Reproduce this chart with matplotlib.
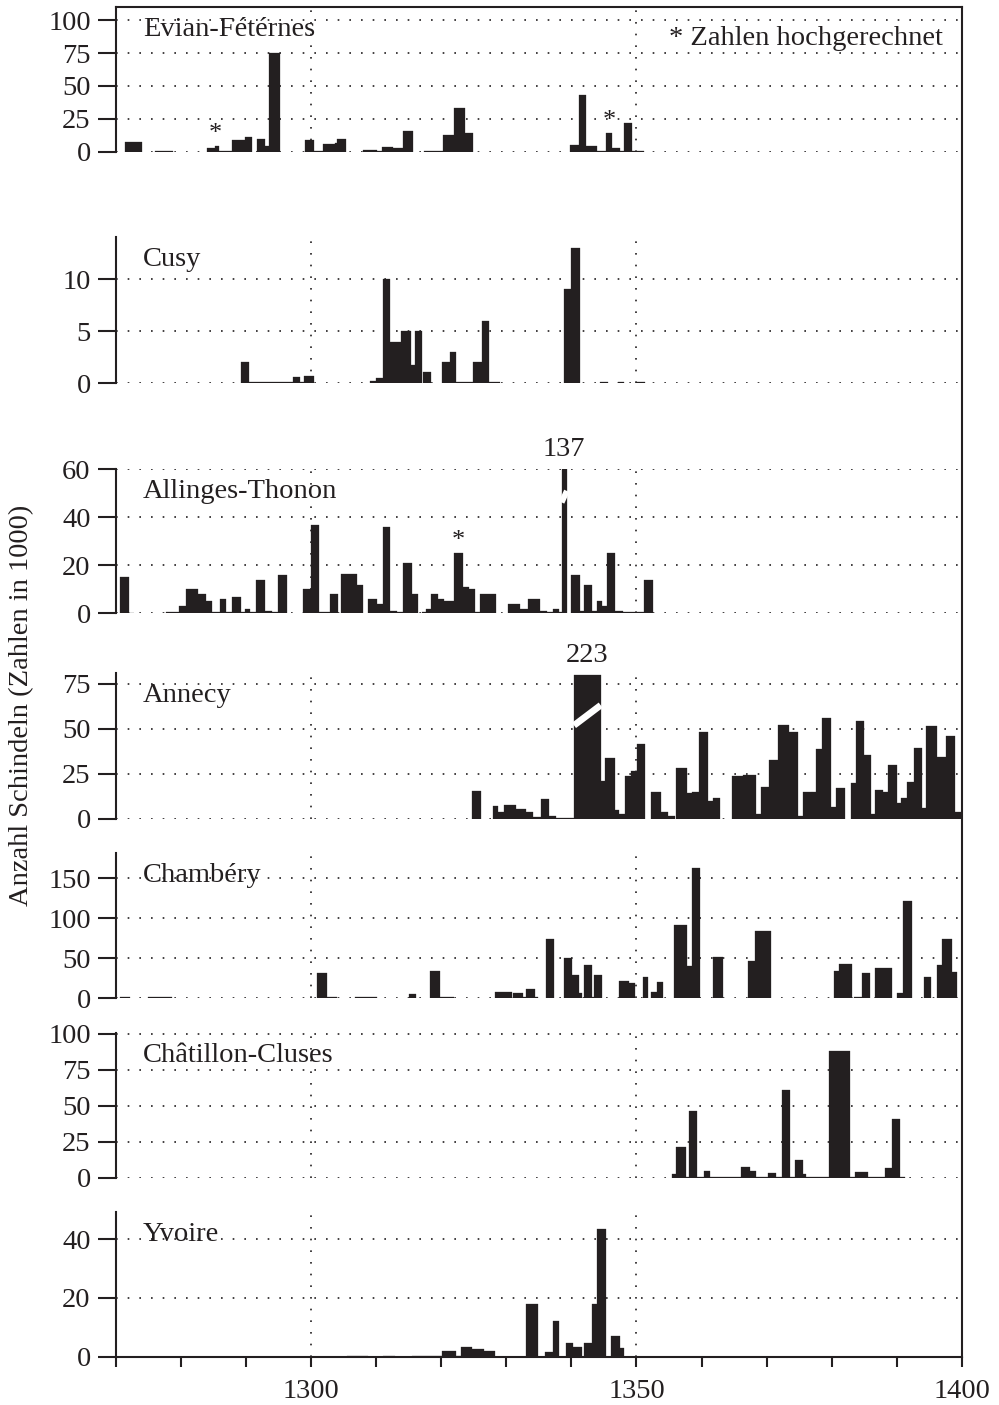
import matplotlib
matplotlib.use('Agg')
import matplotlib.pyplot as plt
from matplotlib.lines import Line2D

plt.rcParams['font.family'] = ['Liberation Serif', 'DejaVu Serif']
plt.rcParams['font.size'] = 20.5

# ---------------- data (years: start / end of each period, value in 1000 shingles) -------------
evian_start = [1271.5, 1276.0, 1284.0, 1285.3, 1285.9, 1287.9, 1289.9, 1291.7, 1293.0, 1293.6,
               1299.1, 1300.4, 1301.9, 1303.7, 1304.0, 1308.0, 1310.1, 1310.9, 1312.6, 1314.2,
               1317.3, 1320.3, 1321.9, 1323.7, 1339.8, 1341.1, 1342.2, 1344.0, 1345.3, 1346.3,
               1347.4, 1348.1, 1349.3]
evian_end = [1274.0, 1278.8, 1285.3, 1285.9, 1287.9, 1289.9, 1290.9, 1293.0, 1293.6, 1295.2,
             1300.4, 1301.9, 1303.7, 1304.0, 1305.3, 1310.1, 1310.9, 1312.6, 1314.2, 1315.6,
             1320.3, 1321.9, 1323.7, 1324.9, 1341.1, 1342.2, 1344.0, 1345.3, 1346.3, 1347.4,
             1348.1, 1349.3, 1351.2]
evian_val = [7, 0.7, 2.5, 4, 0.7, 9, 11, 10, 4, 75,
             9, 0.8, 5.5, 6.3, 10, 1, 0.6, 3.5, 2.5, 15.5,
             0.7, 13, 33, 14, 5, 43, 4.5, 0.7, 14, 2.5,
             0.7, 21.5, 0.7]
evian_stars = [1285.3, 1345.8]

cusy_start = [1289.2, 1290.4, 1297.2, 1298.3, 1298.9, 1309.0, 1310.0, 1311.1, 1312.2, 1313.9,
              1315.4, 1316.0, 1317.2, 1320.1, 1321.3, 1322.3, 1324.9, 1326.2, 1327.4, 1338.8,
              1340.0, 1344.4, 1347.2, 1349.9]
cusy_end = [1290.4, 1297.2, 1298.3, 1298.9, 1300.4, 1310.0, 1311.1, 1312.2, 1313.9, 1315.4,
            1316.0, 1317.0, 1318.5, 1321.3, 1322.3, 1324.9, 1326.2, 1327.4, 1329.0, 1340.0,
            1341.3, 1345.6, 1348.1, 1351.3]
cusy_val = [2, 0.12, 0.6, 0.12, 0.7, 0.2, 0.5, 10, 4, 5,
            1.8, 5, 1.1, 2, 3, 0.12, 2, 6, 0.12, 9,
            13, 0.12, 0.12, 0.12]

allinges_start = [1270.7, 1272.1, 1277.8, 1279.7, 1280.8, 1282.6, 1283.8, 1284.8, 1286.0, 1286.9,
                  1287.9, 1289.2, 1289.9, 1290.6, 1291.6, 1293.0, 1294.0, 1295.0, 1298.7, 1300.0,
                  1301.3, 1302.9, 1304.6, 1307.0, 1308.8, 1310.1, 1311.0, 1312.2, 1313.2, 1314.2,
                  1315.5, 1317.1, 1317.7, 1318.4, 1319.5, 1320.5, 1322.0, 1323.3, 1324.2, 1325.2,
                  1326.0, 1330.3, 1332.1, 1333.4, 1335.2, 1336.2, 1337.1, 1338.1, 1338.5, 1340.0,
                  1341.3, 1342.0, 1343.2, 1344.0, 1344.7, 1345.4, 1346.7, 1348.0, 1351.1]
allinges_end = [1272.1, 1272.8, 1279.7, 1280.8, 1282.6, 1283.8, 1284.8, 1286.0, 1286.9, 1287.9,
                1289.2, 1289.9, 1290.6, 1291.6, 1293.0, 1294.0, 1295.0, 1296.3, 1300.0, 1301.3,
                1302.9, 1304.2, 1307.0, 1308.0, 1310.1, 1311.0, 1312.2, 1313.2, 1314.2, 1315.5,
                1316.4, 1317.7, 1318.4, 1319.5, 1320.5, 1322.0, 1323.3, 1324.2, 1325.2, 1326.0,
                1328.4, 1332.1, 1333.4, 1335.2, 1336.2, 1337.1, 1338.1, 1338.5, 1339.3, 1341.3,
                1342.0, 1343.2, 1344.0, 1344.7, 1345.4, 1346.7, 1348.0, 1351.1, 1352.6]
allinges_val = [15, 0.3, 0.4, 3, 10, 8, 5, 0.4, 6, 0.4,
                7, 0.5, 2, 0.5, 14, 1, 0.4, 16, 10, 37,
                0.4, 8, 16.5, 12, 6, 4, 36, 1, 0.4, 21,
                8, 0.4, 2, 8, 6, 5, 25, 11, 10, 0.5,
                8, 4, 2, 6, 1, 0.4, 2, 0.4, 137, 16,
                1, 12, 1, 5, 3, 25, 1, 0.4, 14]
allinges_stars = [1322.6]

annecy_start = [1324.8, 1327.9, 1328.7, 1329.7, 1331.5, 1333.1, 1334.1, 1335.3, 1336.6, 1337.6,
                1340.4, 1344.5, 1345.2, 1346.7, 1347.3, 1348.2, 1349.2, 1350.1, 1352.3, 1353.8,
                1354.8, 1356.1, 1357.8, 1358.6, 1359.6, 1361.0, 1361.8, 1364.7, 1366.3, 1368.3,
                1369.2, 1370.4, 1371.8, 1373.5, 1374.8, 1375.5, 1376.9, 1377.6, 1378.5, 1379.9,
                1380.7, 1382.9, 1383.7, 1385.0, 1386.0, 1386.6, 1387.9, 1388.6, 1390.0, 1390.6,
                1391.6, 1392.6, 1393.9, 1394.5, 1396.2, 1397.6, 1398.9]
annecy_end = [1326.1, 1328.7, 1329.7, 1331.5, 1333.1, 1334.1, 1335.3, 1336.6, 1337.6, 1340.4,
              1344.5, 1345.2, 1346.7, 1347.3, 1348.2, 1349.2, 1350.1, 1351.3, 1353.8, 1354.8,
              1355.9, 1357.8, 1358.6, 1359.6, 1361.0, 1361.8, 1362.9, 1366.3, 1368.3, 1369.2,
              1370.4, 1371.8, 1373.5, 1374.8, 1375.5, 1376.9, 1377.6, 1378.5, 1379.9, 1380.7,
              1382.0, 1383.7, 1385.0, 1386.0, 1386.6, 1387.9, 1388.6, 1390.0, 1390.6, 1391.6,
              1392.6, 1393.9, 1394.5, 1396.2, 1397.6, 1398.9, 1400.0]
annecy_val = [15.5, 7, 4, 8, 5.4, 4, 1, 11, 1.5, 0.6,
              223, 21, 34, 5, 2.8, 24, 26.5, 41.5, 14.8, 3.7,
              1.5, 28.5, 14.4, 14.8, 48.5, 9.8, 11.9, 24, 24.4, 2.8,
              18, 33, 52.4, 48.3, 1.9, 14.8, 14.8, 38.9, 55.9, 6.5,
              17.2, 20, 54.4, 35.6, 2.8, 15.9, 14.8, 30, 8.9, 11.9,
              20.7, 39.3, 5.9, 51.9, 34.6, 45.9, 3.7]

chambery_start = [1270.7, 1275.0, 1300.9, 1302.4, 1306.8, 1315.0, 1318.3, 1319.8, 1328.3, 1331.1,
                  1332.6, 1333.1, 1334.4, 1336.1, 1338.8, 1340.1, 1341.2, 1341.9, 1343.1, 1343.5,
                  1347.3, 1348.9, 1351.0, 1352.3, 1353.1, 1355.7, 1357.7, 1358.5, 1361.8, 1367.2,
                  1368.2, 1380.4, 1381.1, 1383.4, 1384.6, 1386.6, 1390.0, 1391.0, 1394.1, 1396.1,
                  1397.0, 1398.4]
chambery_end = [1272.2, 1278.6, 1302.4, 1304.0, 1310.1, 1316.2, 1319.8, 1321.9, 1330.8, 1332.6,
                1333.1, 1334.4, 1334.9, 1337.3, 1340.1, 1341.2, 1341.7, 1343.1, 1343.5, 1344.7,
                1348.9, 1349.8, 1351.7, 1353.1, 1354.1, 1357.7, 1358.5, 1359.8, 1363.3, 1368.2,
                1370.6, 1381.1, 1383.1, 1384.6, 1385.9, 1389.3, 1391.0, 1392.3, 1395.3, 1397.0,
                1398.4, 1399.2]
chambery_val = [1.2, 1.2, 32, 1, 1, 5, 34, 1.2, 7.5, 6,
                1.5, 12, 1, 74, 50, 29, 6, 42, 2, 29,
                22, 19, 27, 8, 20, 92, 40, 163, 52, 46,
                84, 34, 43, 1.5, 32, 38, 6, 122, 26, 42,
                74, 33]

chatillon_start = [1355.4, 1356.1, 1357.6, 1358.1, 1359.3, 1360.3, 1361.3, 1366.0, 1367.4, 1368.3,
                   1370.2, 1371.5, 1372.3, 1373.6, 1374.3, 1375.5, 1376.0, 1379.5, 1382.8, 1383.6,
                   1385.6, 1388.2, 1389.2, 1390.4]
chatillon_end = [1356.1, 1357.6, 1358.1, 1359.3, 1360.3, 1361.3, 1366.0, 1367.4, 1368.3, 1370.2,
                 1371.5, 1372.3, 1373.6, 1374.3, 1375.5, 1376.0, 1379.5, 1382.8, 1383.6, 1385.6,
                 1388.2, 1389.2, 1390.4, 1391.3]
chatillon_val = [2.5, 21.5, 0.5, 46, 0.5, 4.6, 0.5, 7.6, 4.6, 0.5,
                 3.5, 0.5, 60.6, 0.5, 12.5, 2.3, 0.5, 87.7, 0.5, 3.7,
                 0.5, 7, 41, 0.5]

yvoire_start = [1305.5, 1311.0, 1315.5, 1320.1, 1322.2, 1323.0, 1324.7, 1326.5, 1333.0, 1335.9,
                1337.2, 1339.1, 1340.3, 1342.0, 1343.1, 1344.0, 1346.1, 1347.4]
yvoire_end = [1308.8, 1312.9, 1320.1, 1322.2, 1323.0, 1324.7, 1326.5, 1328.3, 1334.9, 1337.2,
              1338.1, 1340.3, 1341.7, 1343.1, 1344.0, 1345.3, 1347.4, 1348.1]
yvoire_val = [0.3, 0.4, 0.3, 2, 0.3, 3.2, 2.6, 2, 17.8, 1.6,
              12.2, 4.5, 3.2, 4.5, 18, 43.3, 7, 3]

site_names = ['Evian-Fétérnes', 'Cusy', 'Allinges-Thonon', 'Annecy', 'Chambéry',
              'Châtillon-Cluses', 'Yvoire']
ytick_sets = [[0, 25, 50, 75, 100], [0, 5, 10], [0, 20, 40, 60], [0, 25, 50, 75],
              [0, 50, 100, 150], [0, 25, 50, 75, 100], [0, 20, 40]]
x_ticks = list(range(1270, 1401, 10))
x_labelled = [1300, 1350, 1400]
y_label = 'Anzahl Schindeln (Zahlen in 1000)'
note_text = '* Zahlen hochgerechnet'

# ---------------- layout / style ----------------
W, H = 999, 1405
BAR = '#231f20'
INK = '#231f20'
LEFT_PX, RIGHT_PX = 115.7, 962.0

panels = [
    dict(start=evian_start, end=evian_end, val=evian_val, top=7, bot=151.7, ymax=110, stars=evian_stars),
    dict(start=cusy_start, end=cusy_end, val=cusy_val, top=237.3, bot=383.3, ymax=14.0, stars=[]),
    dict(start=allinges_start, end=allinges_end, val=allinges_val, top=469.3, bot=613.3, ymax=60,
         stars=allinges_stars, cap=60, brk=(0.77, 0.85), brk_lw=4.2),
    dict(start=annecy_start, end=annecy_end, val=annecy_val, top=673, bot=819, ymax=81.1,
         stars=[], cap=80, brk=(0.65, 0.79), brk_lw=4.8),
    dict(start=chambery_start, end=chambery_end, val=chambery_val, top=853, bot=998.3, ymax=181.6, stars=[]),
    dict(start=chatillon_start, end=chatillon_end, val=chatillon_val, top=1032.5, bot=1177.7, ymax=100.8, stars=[]),
    dict(start=yvoire_start, end=yvoire_end, val=yvoire_val, top=1212, bot=1356.7, ymax=49.2, stars=[]),
]

fig = plt.figure(figsize=(W / 100, H / 100), dpi=100)
dots = (0, (1, 6))

axes = []
for i, p in enumerate(panels):
    rect = [LEFT_PX / W, 1 - p['bot'] / H, (RIGHT_PX - LEFT_PX) / W, (p['bot'] - p['top']) / H]
    ax = fig.add_axes(rect)
    axes.append(ax)
    ax.set_xlim(1270, 1400)
    ax.set_ylim(0, p['ymax'])

    cap = p.get('cap')
    heights = [min(v, cap) if cap else v for v in p['val']]
    widths = [e - s for s, e in zip(p['start'], p['end'])]
    ax.bar(p['start'], heights, width=widths, align='edge', color=BAR,
           edgecolor=BAR, linewidth=0.2, zorder=3)

    # dotted grid
    for yv in ytick_sets[i]:
        ax.axhline(yv, color=INK, lw=1.2, linestyle=dots, zorder=1)
    for xv in (1300, 1350):
        ax.axvline(xv, color=INK, lw=1.2, linestyle=dots, zorder=1)

    # broken (out of range) bars
    if cap:
        for s, e, v in zip(p['start'], p['end'], p['val']):
            if v > cap:
                f0, f1 = p['brk']
                ax.plot([s, e], [f0 * cap, f1 * cap], color='white', lw=p['brk_lw'],
                        solid_capstyle='butt', zorder=4)
                ax.annotate(f'{v:g}', xy=((s + e) / 2, cap), xytext=(0, 5),
                            textcoords='offset points', ha='center', va='bottom',
                            color=INK, annotation_clip=False)

    # stars for extrapolated values
    for sy in p['stars']:
        hs = [v for s, e, v in zip(p['start'], p['end'], p['val']) if s <= sy <= e]
        h = max(hs) if hs else 0
        ax.annotate('*', xy=(sy, h), xytext=(0, 1), textcoords='offset points',
                    ha='center', va='bottom', color=INK, fontsize=19)

    ax.text(0.032, 0.80, site_names[i], transform=ax.transAxes, ha='left',
            va='baseline', color=INK, zorder=5)

    ax.set_yticks(ytick_sets[i])
    ax.set_yticklabels([str(t) for t in ytick_sets[i]])
    ax.tick_params(axis='y', direction='out', length=13, width=1.5, pad=5, colors=INK)

    for side in ('top', 'right', 'bottom'):
        ax.spines[side].set_visible(False)
    ax.spines['left'].set_linewidth(1.5)
    ax.spines['left'].set_color(INK)

    if i == len(panels) - 1:
        ax.spines['bottom'].set_visible(True)
        ax.spines['bottom'].set_linewidth(1.5)
        ax.spines['bottom'].set_color(INK)
        ax.set_xticks(x_ticks)
        ax.set_xticklabels([str(t) if t in x_labelled else '' for t in x_ticks])
        ax.tick_params(axis='x', direction='out', length=7, width=1.5, pad=9, colors=INK)
    else:
        ax.set_xticks([])

    if i == 0:
        ax.spines['top'].set_visible(True)
        ax.spines['top'].set_linewidth(1.5)
        ax.spines['top'].set_color(INK)
        ax.text(0.9776, 0.737, note_text, transform=ax.transAxes, ha='right',
                va='baseline', color=INK)

# continuous right frame line
x_r = RIGHT_PX / W
fig.add_artist(Line2D([x_r, x_r], [1 - panels[-1]['bot'] / H, 1 - panels[0]['top'] / H],
                      transform=fig.transFigure, color=INK, lw=1.5))

fig.text(22 / W, 1 - 705 / H, y_label, rotation=90, ha='center', va='center', color=INK)

fig.savefig('out.png', dpi=100)
